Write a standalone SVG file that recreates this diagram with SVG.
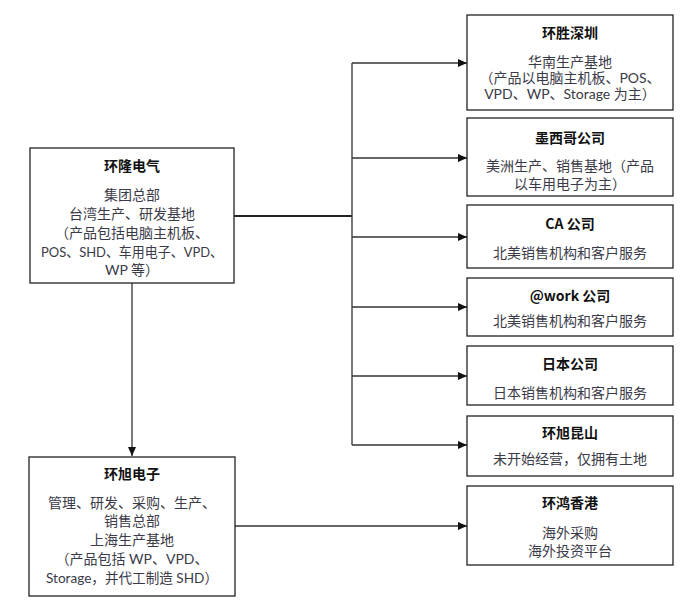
<svg xmlns="http://www.w3.org/2000/svg" width="697" height="605" viewBox="0 0 697 605">
<defs>
<style>
.box{fill:#fff;stroke:#222;stroke-width:1.3}
.t{font-family:"Noto Sans CJK SC","Noto Sans",sans-serif;font-size:14px;font-weight:bold;fill:#111;text-anchor:middle;dominant-baseline:central}
.b{font-family:Lato,"Noto Sans CJK SC",sans-serif;font-size:14px;fill:#3a3a48;text-anchor:middle;dominant-baseline:central}
.c{fill:none;stroke:#333;stroke-width:1.3}
</style>
<marker id="ah" markerWidth="9" markerHeight="8" refX="9" refY="4" orient="auto" markerUnits="userSpaceOnUse">
<path d="M0,0 L9,4 L0,8 Z" fill="#111"/>
</marker>
</defs>
<rect width="697" height="605" fill="#fff"/>
<g id="connectors">
<line class="c" x1="234" y1="216" x2="352" y2="216" style="stroke-width:2.2;stroke:#222"/>
<line class="c" x1="352" y1="63" x2="352" y2="445"/>
<line class="c" x1="352" y1="63" x2="467" y2="63" marker-end="url(#ah)"/>
<line class="c" x1="352" y1="158" x2="467" y2="158" marker-end="url(#ah)"/>
<line class="c" x1="352" y1="237" x2="467" y2="237" marker-end="url(#ah)"/>
<line class="c" x1="352" y1="307" x2="467" y2="307" marker-end="url(#ah)"/>
<line class="c" x1="352" y1="376" x2="467" y2="376" marker-end="url(#ah)"/>
<line class="c" x1="352" y1="445" x2="467" y2="445" marker-end="url(#ah)"/>
<line class="c" x1="132" y1="283" x2="132" y2="456" marker-end="url(#ah)"/>
<line class="c" x1="235" y1="526" x2="467" y2="526" marker-end="url(#ah)"/>
</g>
<g id="n-huanlong">
<rect class="box" x="30" y="148" width="204" height="135"/>
<text class="t" x="132" y="165">环隆电气</text>
<text class="b" x="132" y="194">集团总部</text>
<text class="b" x="132" y="213">台湾生产、研发基地</text>
<text class="b" x="132" y="232">（产品包括电脑主机板、</text>
<text class="b" x="132" y="251" textLength="182" lengthAdjust="spacingAndGlyphs">POS、SHD、车用电子、VPD、</text>
<text class="b" x="132" y="269">WP 等）</text>
</g>
<g id="n-huanxu">
<rect class="box" x="29" y="457" width="206" height="139"/>
<text class="t" x="132" y="473">环旭电子</text>
<text class="b" x="132" y="502">管理、研发、采购、生产、</text>
<text class="b" x="132" y="520">销售总部</text>
<text class="b" x="132" y="539">上海生产基地</text>
<text class="b" x="132" y="558">（产品包括 WP、VPD、</text>
<text class="b" x="132" y="577" textLength="172" lengthAdjust="spacingAndGlyphs">Storage，并代工制造 SHD）</text>
</g>
<g id="n-shenzhen">
<rect class="box" x="467" y="15" width="206" height="95"/>
<text class="t" x="570" y="32">环胜深圳</text>
<text class="b" x="570" y="61">华南生产基地</text>
<text class="b" x="570" y="77">（产品以电脑主机板、POS、</text>
<text class="b" x="570" y="93">VPD、WP、Storage 为主）</text>
</g>
<g id="n-mexico">
<rect class="box" x="467" y="118" width="206" height="78"/>
<text class="t" x="570" y="137">墨西哥公司</text>
<text class="b" x="570" y="165">美洲生产、销售基地（产品</text>
<text class="b" x="570" y="183">以车用电子为主）</text>
</g>
<g id="n-ca">
<rect class="box" x="467" y="205" width="206" height="63"/>
<text class="t" x="570" y="223">CA 公司</text>
<text class="b" x="570" y="252">北美销售机构和客户服务</text>
</g>
<g id="n-work">
<rect class="box" x="467" y="278" width="206" height="58"/>
<text class="t" x="570" y="295">@work 公司</text>
<text class="b" x="570" y="320">北美销售机构和客户服务</text>
</g>
<g id="n-japan">
<rect class="box" x="467" y="346" width="206" height="59"/>
<text class="t" x="570" y="363">日本公司</text>
<text class="b" x="570" y="392">日本销售机构和客户服务</text>
</g>
<g id="n-kunshan">
<rect class="box" x="467" y="416" width="206" height="60"/>
<text class="t" x="570" y="432">环旭昆山</text>
<text class="b" x="570" y="458">未开始经营，仅拥有土地</text>
</g>
<g id="n-hk">
<rect class="box" x="467" y="486" width="206" height="79"/>
<text class="t" x="570" y="502">环鸿香港</text>
<text class="b" x="570" y="532">海外采购</text>
<text class="b" x="570" y="550">海外投资平台</text>
</g>
</svg>
